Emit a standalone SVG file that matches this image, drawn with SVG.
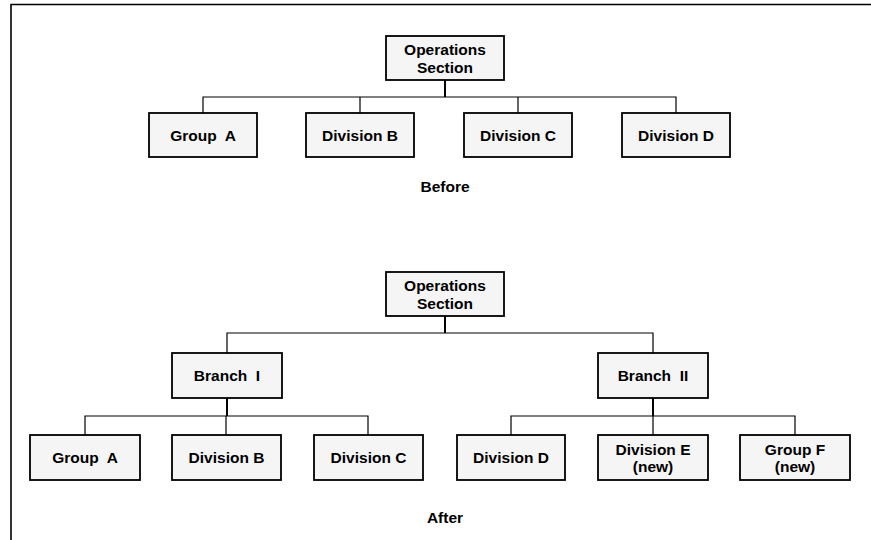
<svg xmlns="http://www.w3.org/2000/svg" width="871" height="540" viewBox="0 0 871 540">
<style>
.box{fill:#f5f5f5;stroke:#000;stroke-width:1.8}
.t{font-family:"Liberation Sans",Arial,sans-serif;font-weight:bold;font-size:15.5px;fill:#000;text-anchor:middle}
.c{fill:none;stroke:#000;stroke-width:1.2}
.v{fill:none;stroke:#000;stroke-width:2}
.frame{fill:none;stroke:#000;stroke-width:1.6}
</style>
<rect width="871" height="540" fill="#fff"/>
<path class="frame" d="M11,540 V4.5 H871"/>
<g id="connectors">
  <path class="v" d="M445,80 V97"/>
  <path class="c" d="M203,113 V97 H676 V113 M360,97 V113 M518,97 V113"/>
  <path class="v" d="M445,316 V333"/>
  <path class="c" d="M227,353 V333 H653 V353"/>
  <path class="v" d="M227,398 V416 M653,398 V416"/>
  <path class="c" d="M85,435 V416 H368 V435 M226,416 V435"/>
  <path class="c" d="M511,435 V416 H795 V435 M653,416 V435"/>
</g>
<g id="before-ops"><rect class="box" x="386" y="36" width="118" height="44"/><text class="t" x="445" y="54.5">Operations</text><text class="t" x="445" y="73">Section</text></g>
<g id="before-groupA"><rect class="box" x="149" y="113" width="108" height="44"/><text class="t" x="203" y="140.5" xml:space="preserve">Group  A</text></g>
<g id="before-divB"><rect class="box" x="306" y="113" width="108" height="44"/><text class="t" x="360" y="140.5">Division B</text></g>
<g id="before-divC"><rect class="box" x="464" y="113" width="108" height="44"/><text class="t" x="518" y="140.5">Division C</text></g>
<g id="before-divD"><rect class="box" x="622" y="113" width="108" height="44"/><text class="t" x="676" y="140.5">Division D</text></g>
<text class="t" x="445" y="192">Before</text>
<g id="after-ops"><rect class="box" x="386" y="272" width="118" height="44"/><text class="t" x="445" y="290.5">Operations</text><text class="t" x="445" y="309">Section</text></g>
<g id="branch1"><rect class="box" x="172" y="353" width="110" height="45"/><text class="t" x="227" y="381" xml:space="preserve">Branch  I</text></g>
<g id="branch2"><rect class="box" x="598" y="353" width="110" height="45"/><text class="t" x="653" y="381" xml:space="preserve">Branch  II</text></g>
<g id="after-groupA"><rect class="box" x="30" y="435" width="110" height="45"/><text class="t" x="85" y="463" xml:space="preserve">Group  A</text></g>
<g id="after-divB"><rect class="box" x="172" y="435" width="109" height="45"/><text class="t" x="226.5" y="463">Division B</text></g>
<g id="after-divC"><rect class="box" x="314" y="435" width="109" height="45"/><text class="t" x="368.5" y="463">Division C</text></g>
<g id="after-divD"><rect class="box" x="457" y="435" width="108" height="45"/><text class="t" x="511" y="463">Division D</text></g>
<g id="after-divE"><rect class="box" x="598" y="435" width="110" height="45"/><text class="t" x="653" y="454.5">Division E</text><text class="t" x="653" y="472">(new)</text></g>
<g id="after-groupF"><rect class="box" x="740" y="435" width="110" height="45"/><text class="t" x="795" y="454.5">Group F</text><text class="t" x="795" y="472">(new)</text></g>
<text class="t" x="445" y="523">After</text>
</svg>
